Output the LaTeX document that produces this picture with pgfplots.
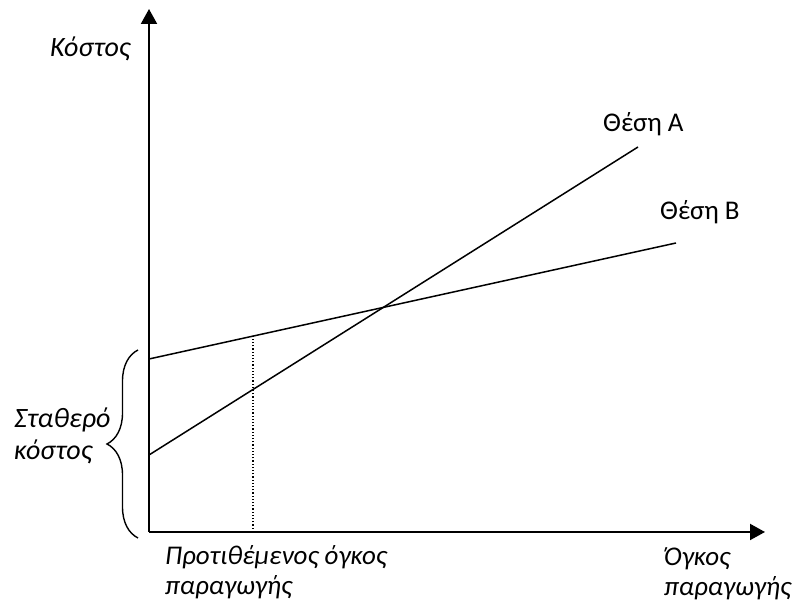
\documentclass[border=0pt]{standalone}
\usepackage{fontspec}
\setmainfont{Carlito}
\usepackage{pgfplots}
\pgfplotsset{compat=1.18}
\usetikzlibrary{arrows.meta,decorations.pathreplacing}
\begin{document}
\fontsize{27}{32}\selectfont
\begin{tikzpicture}
\useasboundingbox (0,0) rectangle (796pt,604pt);
\begin{axis}[anchor=origin, at={(0,0)}, x=1pt, y=1pt,
  xmin=0, xmax=796, ymin=0, ymax=604,
  hide axis, clip=false,
  every axis plot/.append style={no marks, black}]
% axes
\addplot[line width=2pt, -{Triangle[width=16pt,length=15pt]}] coordinates {(149,72) (149,595)};
\addplot[line width=2pt, -{Triangle[width=16pt,length=15pt]}] coordinates {(149,72) (765,72)};
% Location A
\addplot[line width=1.5pt] coordinates {(149,149) (638,457)};
% Location B
\addplot[line width=1.5pt] coordinates {(149,245) (676,361)};
% proposed volume
\addplot[line width=1.2pt, dotted] coordinates {(253,72) (253,268)};
% brace
\draw[line width=1.4pt, decorate, decoration={brace, amplitude=31pt}] (axis cs:138,66) -- (axis cs:138,254);
% labels
\begin{scope}[every node/.style={inner sep=0pt, anchor=base west}]
\node[font=\fontsize{28}{33}\selectfont\itshape] at (axis cs:50,547) {Κόστος};
\node at (axis cs:603,472) {Θέση A};
\node at (axis cs:660,384) {Θέση B};
\node[font=\fontsize{28}{33}\selectfont\itshape] at (axis cs:14,176) {Σταθερό};
\node[font=\fontsize{28}{33}\selectfont\itshape] at (axis cs:14,144) {κόστος};
\node[font=\fontsize{27}{32}\selectfont\itshape] at (axis cs:165,39) {Προτιθέμενος όγκος};
\node[font=\fontsize{27}{32}\selectfont\itshape] at (axis cs:165,9) {παραγωγής};
\node[font=\fontsize{27}{32}\selectfont\itshape] at (axis cs:664,38) {Όγκος};
\node[font=\fontsize{27}{32}\selectfont\itshape] at (axis cs:664,8) {παραγωγής};
\end{scope}
\end{axis}
\end{tikzpicture}
\end{document}
